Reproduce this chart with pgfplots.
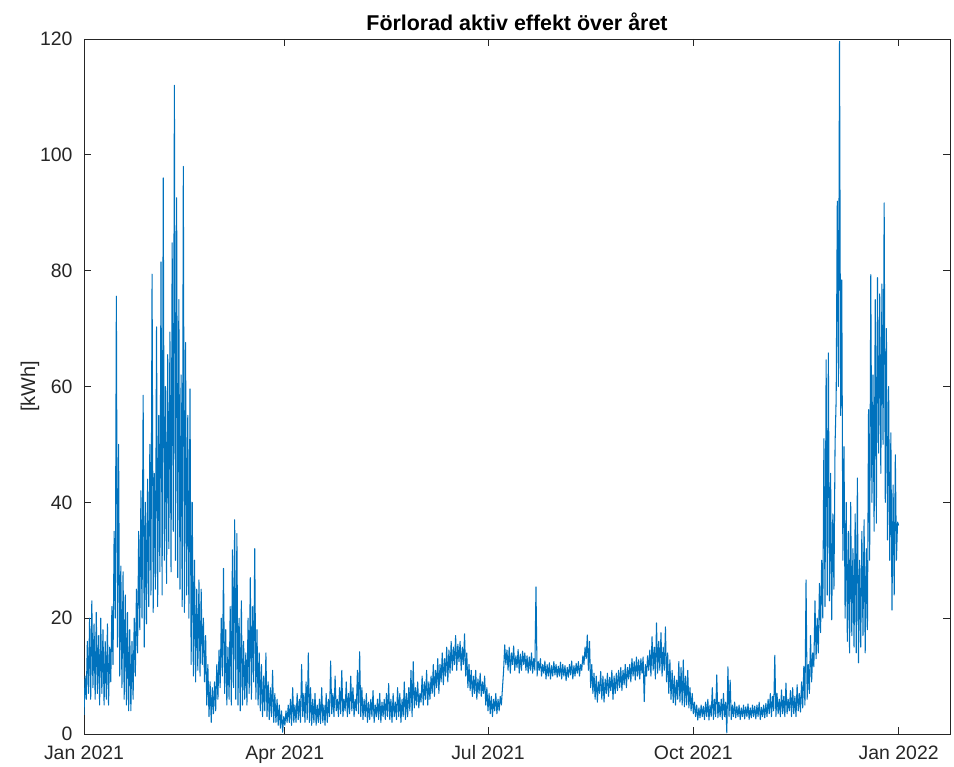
\documentclass[border=0pt]{standalone}
\usepackage{fontspec}
\setmainfont{Liberation Sans}
\usepackage{pgfplots}
\pgfplotsset{compat=1.18}
\definecolor{mblue}{rgb}{0,0.447,0.741}
\definecolor{axgray}{rgb}{0.15,0.15,0.15}
\begin{document}
\begin{tikzpicture}
\path[use as bounding box] (0,0) rectangle (954bp,767bp);
\begin{axis}[
  at={(84bp,33bp)}, anchor=south west,
  scale only axis, width=866bp, height=695bp,
  xmin=0, xmax=388, ymin=0, ymax=120,
  xtick={0,90,181,273,365},
  xticklabels={Jan 2021,Apr 2021,Jul 2021,Oct 2021,Jan 2022},
  ytick={0,20,40,60,80,100,120},
  tick align=inside, major tick length=7bp,
  axis line style={axgray, line width=0.9bp},
  every tick/.style={axgray, line width=0.9bp},
  tick label style={font=\fontsize{19.5}{22}\selectfont, text=axgray},
  /pgf/number format/assume math mode=true,
  xticklabel style={yshift=-8bp},
  yticklabel style={xshift=-8bp},
  ylabel={[kWh]},
  ylabel style={font=\fontsize{20}{24}\selectfont, text=axgray, yshift=-6bp},
  title={Förlorad aktiv effekt över året},
  title style={font=\fontsize{21.5}{25}\selectfont\bfseries, yshift=-1bp},
]
\addplot[mblue, line width=1.05bp, line join=round, no markers]
  table[row sep=\\, header=false, x expr=\coordindex*0.5, y index=0] {
3.3\\10\\6\\16\\7\\20\\6\\23\\8\\19\\6\\21\\7\\17\\5\\20\\7\\18\\5\\16\\
6\\19\\5\\15\\9\\22\\12\\35\\20\\75.6\\15\\50\\10\\29\\8\\28\\6\\24\\5\\21\\
4\\18\\4\\16\\6\\20\\10\\25\\14\\35\\18\\42\\20\\58.5\\15\\40\\19\\44\\22\\50\\
24\\79.4\\21\\45\\25\\70.3\\22\\55\\28\\81.5\\24\\96\\30\\60\\26\\65.5\\32\\69.4\\28\\84.8\\
35\\112\\30\\92.6\\27\\75\\25\\62\\22\\98\\21\\67.6\\24\\55\\20\\59.6\\12\\40\\10\\30\\
9\\25\\11\\26.6\\10\\25\\12\\20\\9\\17\\5\\12\\3\\9\\2\\8\\3.5\\9\\4\\12\\
6\\14.5\\8\\20\\10\\28.6\\7\\18\\5\\15\\6\\22\\5\\31.8\\8\\37\\6\\34.6\\5\\20\\
4\\23\\5\\16\\6\\14\\5\\20\\7\\27\\6\\22\\9\\32\\6\\18\\5\\14\\4\\12\\
3\\10\\4\\14\\3\\9\\2.5\\8\\3\\11\\2\\7\\2\\6\\1.5\\5\\1\\4\\0.3\\3\\
1.5\\4\\2\\5\\2\\6\\1.5\\8\\2\\5\\2\\7\\2.5\\6\\2\\12\\3\\7\\2\\9\\
2.5\\14\\2\\8\\1.5\\6\\2\\7\\1.5\\5\\2\\6\\1.8\\8\\2\\5\\1.5\\7\\2\\6\\
3\\12.6\\3.5\\7\\3\\10\\4\\6\\3\\8\\3.5\\11\\3\\6\\4\\9\\3\\7\\3.5\\10\\
4\\8\\3\\6\\4\\11\\3.5\\14.2\\3\\8\\2.5\\6\\3\\7\\2\\5.5\\2.5\\6\\3\\7.5\\
2\\5\\3\\6\\2.5\\7\\2\\5.5\\3\\6\\2.5\\7\\3\\8.7\\2.5\\6\\2\\7\\3\\5.5\\
2.5\\8\\3\\7\\2\\6\\3\\9\\2.5\\7\\3\\8\\4\\11\\3\\12.5\\4.5\\8\\5\\9\\
4.5\\7\\5.5\\10\\5\\9\\6\\11\\5\\9\\6\\10\\7\\12\\6.5\\11\\8\\13\\7\\12\\
9\\14\\8.5\\13\\10\\15\\9\\14.5\\10.5\\16\\11\\15\\12\\17\\11\\15.5\\12.5\\16\\11\\15\\
12\\17.3\\10\\14\\8\\12\\7.5\\11\\6.5\\10\\7\\11\\6\\9.5\\7\\10.5\\6.5\\9\\7\\10\\
5\\8\\4\\7\\3.5\\6.5\\3\\6\\4\\7\\3.5\\6\\4\\6.5\\5\\8\\11\\15.4\\12\\14.5\\
11\\15\\10.5\\14\\12\\15.2\\11\\13.5\\11.5\\14.6\\10.5\\13.8\\11\\14.3\\12\\14\\11\\13.5\\10.5\\13.3\\
11\\14\\10.5\\13\\11\\25.4\\10\\12.5\\11\\13\\10\\12\\10.5\\12.6\\9.5\\12\\10\\12.3\\9.5\\11.8\\
10\\12.5\\10.2\\12\\9.8\\11.7\\10\\12.4\\9.5\\12\\10\\11.8\\9.2\\11.5\\9.8\\12\\10.2\\12.6\\9.5\\11.8\\
10\\12.2\\10.5\\12.5\\10\\12\\11\\13.5\\12\\15\\13\\17.1\\11\\16\\8\\12\\7\\10.5\\6\\10\\
5.5\\9\\7\\10.8\\6\\10\\5.5\\9.5\\7\\10.5\\6.5\\9.8\\7.5\\11\\6\\10\\7\\10.5\\7.5\\11\\
8\\11.5\\7.5\\11\\8.5\\12\\8\\11.5\\9.5\\12\\9\\13\\10\\12.5\\9.3\\13.3\\10\\12.8\\9.5\\13\\
10.5\\13.3\\5.6\\12\\10\\13.5\\11\\14.5\\10\\16.8\\11\\15\\9.5\\19.2\\10.5\\16\\11\\17.5\\10\\15\\
11\\18.5\\9\\14\\7\\12.8\\6\\11\\5.4\\10\\5\\9.3\\6\\12.5\\5.5\\11.5\\5\\12.8\\4.7\\10\\
5\\11\\4.5\\8\\4\\7\\3.5\\5.5\\3\\5\\2.4\\4.5\\2.8\\5\\3\\4.8\\2.5\\5.5\\3\\6\\
2.4\\5\\3\\8\\2.5\\6\\3\\10.2\\2.8\\5.5\\3\\6\\2.5\\7\\3\\5.5\\0.2\\11.6\\3\\9.3\\
2.5\\5\\3\\5.5\\2.8\\4.8\\3\\5\\2.5\\4.5\\3\\5\\2.6\\4.7\\3\\5.2\\2.5\\4.5\\2.8\\5\\
3\\4.8\\2.6\\5\\3\\5.5\\2.5\\4.6\\3\\5\\2.8\\5.3\\3\\6\\3.5\\7\\3\\6.5\\4\\13.6\\
3\\7\\3.5\\6\\3\\7.6\\3.5\\6.5\\3\\8.8\\3.5\\6\\4\\7.5\\3\\8\\3.5\\6.5\\3\\8.5\\
4\\7\\3.8\\9\\4.5\\11.7\\5\\26.6\\6\\12\\7\\17\\9\\14\\11.6\\23\\13\\20\\14\\26\\
17.5\\30\\20\\51\\22\\64.6\\24\\65.8\\23\\45\\19.7\\38\\25\\50\\58\\92\\60\\119.6\\55\\78.4\\
30\\49.6\\20\\40\\16\\35\\14\\40\\17\\32\\15\\38\\14\\44.2\\12.3\\30\\15\\35\\17\\37\\
14\\32\\18\\56\\30\\79.3\\40\\62\\35\\75\\36.4\\78.8\\48.5\\76\\45\\77.7\\50\\91.7\\40\\70\\
33.5\\60\\30\\52\\21.4\\43\\24\\48.2\\30\\36.6\\36\\
};
\end{axis}
\end{tikzpicture}
\end{document}
